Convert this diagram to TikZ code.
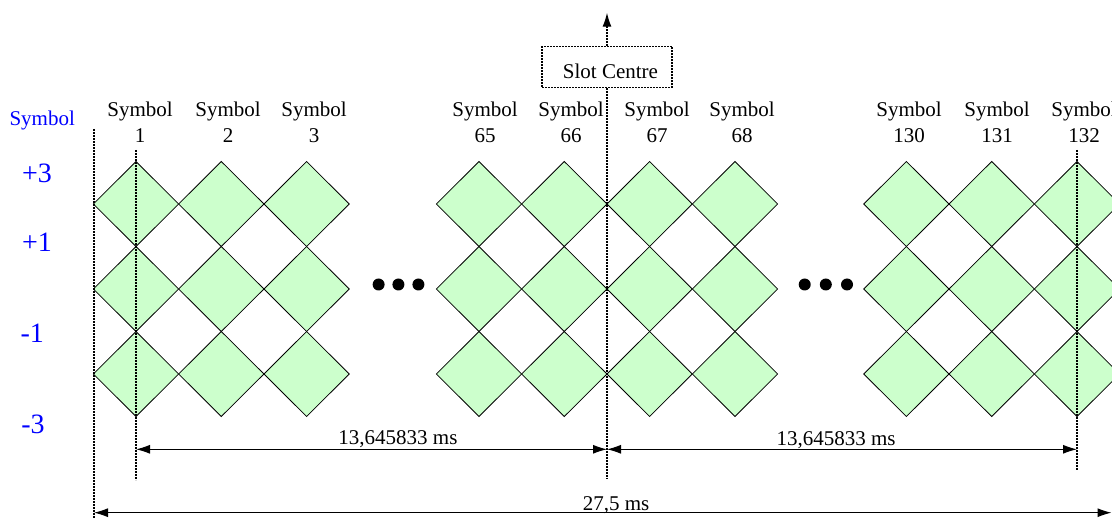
\documentclass[tikz,border=0pt]{standalone}
\usepackage{fontspec}
\setmainfont{Liberation Serif}
\usetikzlibrary{arrows.meta}
\definecolor{symgreen}{RGB}{204,255,204}
\begin{document}
\begin{tikzpicture}[x=1pt, y=-1pt,
  diamondcell/.style={fill=symgreen, draw=black, line width=0.8pt, line join=miter},
  guide/.style={line width=1.3pt, dash pattern=on 2pt off 1pt},
  dimline/.style={line width=1pt},
  dimtip/.tip={Latex[length=14pt,width=9pt]},
  lbl/.style={font=\fontsize{21}{25}\selectfont, inner sep=0pt},
  lvl/.style={font=\fontsize{28}{32}\selectfont, text=blue, inner sep=0pt}]
\useasboundingbox (0,0) rectangle (1112,518);
\clip (0,0) rectangle (1112,518);

% diamond lattice
\foreach \cx in {136,221.3,306.6,479,564.3,649.6,735,906.4,991.7,1077}{
  \foreach \cy in {204,289,374}{
    \draw[diamondcell] (\cx-42.65,\cy) -- (\cx,\cy-42.5) -- (\cx+42.65,\cy) -- (\cx,\cy+42.5) -- cycle;
  }
}

% ellipsis dots
\foreach \dx in {378.6,398.4,418.4,804.7,825.8,847}{
  \fill (\dx,284.5) circle (6pt);
}

% column labels
\foreach \x/\n [count=\i] in {140/1,228/2,314/3,485/65,571/66,657/67,742/68,909/130,997/131,1084/132}{
  \node[lbl, anchor=base] (symw\i) at (\x,116.7) {Symbol};
  \node[lbl, anchor=base] (symn\i) at (\x,142.3) {\n};
}

% level labels
\node[lbl, text=blue, anchor=base] (ylab) at (42.2,126) {Symbol};
\node[lvl, anchor=base] (lp3) at (37,182.7) {+3};
\node[lvl, anchor=base] (lp1) at (37,251.7) {+1};
\node[lvl, anchor=base] (lm1) at (32.3,342.7) {-1};
\node[lvl, anchor=base] (lm3) at (33,433.3) {-3};

% slot centre
\node[draw, guide, lbl, minimum width=130pt, minimum height=40.6pt,
      text height=22.6pt, text depth=0pt] (slot) at (607,67) {\hspace*{7pt}Slot Centre};
\coordinate (slottop) at (607,12.7);
\coordinate (slotbot) at (607,479);
\draw[guide, -{Latex[length=14pt,width=9pt]}] (slot.north) -- (slottop);
\draw[guide] (slot.south) -- (slotbot);

% other guide lines
\coordinate (ltop) at (94,129);
\coordinate (lbot) at (94,518);
\coordinate (s1top) at (136,150);
\coordinate (s1bot) at (136,480);
\coordinate (s132top) at (1077,150);
\coordinate (s132bot) at (1077,470);
\draw[guide] (ltop) -- (lbot);
\draw[guide] (s1top) -- (s1bot);
\draw[guide] (s132top) -- (s132bot);

% dimension arrows
\coordinate (d1a) at (136,449.3);
\coordinate (d1b) at (607,449.3);
\coordinate (d1c) at (1077,449.3);
\coordinate (d2a) at (94,512.7);
\coordinate (d2b) at (1111.5,512.7);
\draw[dimline, dimtip-dimtip] (d1a) -- (d1b);
\draw[dimline, dimtip-dimtip] (d1b) -- (d1c);
\draw[dimline, dimtip-dimtip] (d2a) -- (d2b);
\node[lbl, anchor=base] (t1) at (398,445) {13,645833 ms};
\node[lbl, anchor=base] (t2) at (836,446) {13,645833 ms};
\node[lbl, anchor=base] (t3) at (616,510.7) {27,5 ms};
\end{tikzpicture}
\end{document}
